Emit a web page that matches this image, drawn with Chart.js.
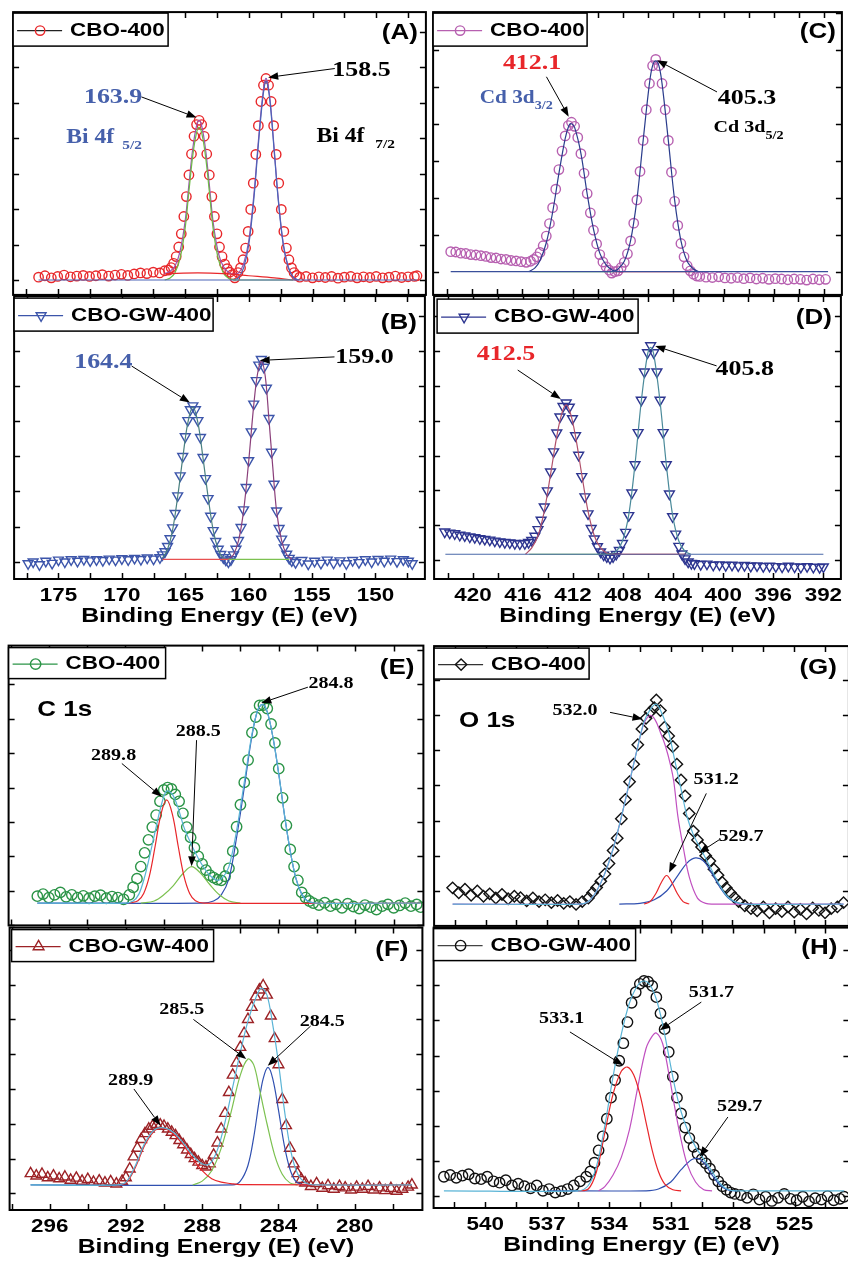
<!DOCTYPE html>
<html>
<head>
<meta charset="utf-8">
<script src="https://cdn.jsdelivr.net/npm/chart.js"></script>
<style>
  html, body { margin: 0; padding: 0; background: #fff; }
  #wrap { position: relative; width: 848px; height: 1261px; overflow: hidden; }
  #wrap canvas { position: absolute; }
</style>
</head>
<body>
<div id="wrap"></div>
<script>
// XPS spectra, 8 panels. Intensities are in tick units (one y tick = 1).

// ---- tick values / labels ----
const biTicks = [147.5, 150, 152.5, 155, 157.5, 160, 162.5, 165, 167.5, 170, 172.5, 175, 177.5];
const biLabels = [175, 170, 165, 160, 155, 150];
const cdTicks = [392, 394, 396, 398, 400, 402, 404, 406, 408, 410, 412, 414, 416, 418, 420, 422];
const cdLabels = [420, 416, 412, 408, 404, 400, 396, 392];
const c1sTicks = [278, 280, 282, 284, 286, 288, 290, 292, 294, 296, 298];
const c1sLabels = [296, 292, 288, 284, 280];
const o1sTicks = [523.5, 525, 526.5, 528, 529.5, 531, 532.5, 534, 535.5, 537, 538.5, 540, 541.5];
const o1sLabels = [540, 537, 534, 531, 528, 525];

// ---- (A) Bi 4f, CBO-400 ----
const aData = [
  [176.5,0.08],[176.0,0.12],[175.5,0.06],[175.0,0.1],[174.5,0.14],[174.0,0.09],[173.5,0.11],[173.0,0.13],[172.5,0.1],[172.0,0.12],
  [171.5,0.15],[171.0,0.11],[170.5,0.14],[170.0,0.16],[169.5,0.13],[169.0,0.17],[168.5,0.2],[168.0,0.18],[167.5,0.22],[167.0,0.2],[166.6,0.26],
  [166.3,0.28],[166.1,0.35],[165.9,0.47],[165.7,0.66],[165.5,0.93],[165.3,1.3],[165.1,1.79],[164.9,2.35],[164.7,2.96],[164.5,3.55],
  [164.3,4.05],[164.1,4.38],[163.9,4.5],[163.7,4.38],[163.5,4.05],[163.3,3.55],[163.1,2.96],[162.9,2.35],[162.7,1.79],[162.5,1.3],
  [162.3,0.93],[162.1,0.66],[161.9,0.45],[161.7,0.32],[161.5,0.22],[161.3,0.15],[161.1,0.06],
  [160.85,0.21],[160.65,0.34],[160.45,0.57],[160.25,0.9],[160.05,1.37],[159.85,1.99],[159.65,2.73],[159.45,3.54],[159.25,4.35],
  [159.05,5.03],[158.85,5.49],[158.65,5.68],[158.45,5.49],[158.25,5.03],[158.05,4.35],[157.85,3.54],[157.65,2.73],[157.45,1.99],
  [157.25,1.37],[157.05,0.9],[156.85,0.57],[156.65,0.34],[156.45,0.21],[156.25,0.13],
  [156.0,0.08],[155.5,0.1],[155.0,0.06],[154.5,0.09],[154.0,0.07],[153.5,0.1],[153.0,0.05],[152.5,0.08],[152.0,0.1],[151.5,0.06],
  [151.0,0.09],[150.5,0.07],[150.0,0.1],[149.5,0.06],[149.0,0.08],[148.5,0.11],[148.0,0.07],[147.5,0.09],[147.0,0.1],[146.8,0.12]
];
const aBase = [[176.5,0],[146.8,0]];
const aBaseGreen = [[161.2,0],[156.5,0]];
const aBg = [[166.5,0.18],[164.0,0.2],[162.0,0.18],[160.0,0.12],[158.0,0.06],[156.5,0.0]];
const aComp1 = [[166.6,0],[166.2,0.05],[165.8,0.2],[165.4,0.6],[165.0,1.45],[164.7,2.5],[164.4,3.5],[164.1,4.15],[163.9,4.3],
  [163.7,4.15],[163.4,3.5],[163.1,2.5],[162.8,1.45],[162.4,0.6],[162.0,0.2],[161.6,0.05],[161.0,0]];
const aComp2 = [[161.2,0],[160.8,0.07],[160.4,0.35],[160.0,1.0],[159.6,2.3],[159.3,3.6],[159.0,4.8],[158.8,5.4],[158.65,5.6],
  [158.5,5.45],[158.3,4.9],[158.0,3.6],[157.7,2.3],[157.3,1.0],[156.9,0.35],[156.5,0.07],[156.1,0]];
const aEnv = [[166.6,0.18],[166.2,0.24],[165.8,0.39],[165.4,0.8],[165.0,1.65],[164.7,2.7],[164.4,3.7],[164.1,4.35],[163.9,4.5],
  [163.7,4.35],[163.4,3.7],[163.1,2.7],[162.8,1.63],[162.4,0.78],[162.0,0.38],[161.6,0.22],[161.2,0.16],[160.8,0.2],[160.4,0.47],
  [160.0,1.12],[159.6,2.41],[159.3,3.7],[159.0,4.9],[158.8,5.5],[158.65,5.68],[158.5,5.52],[158.3,4.97],[158.0,3.66],[157.7,2.35],
  [157.3,1.04],[156.9,0.37],[156.5,0.07],[156.1,0.0]];

// ---- (B) Bi 4f, CBO-GW-400 ----
const bData = [
  [177.4,-0.05],[177.0,0.0],[176.5,-0.08],[176.0,0.02],[175.5,-0.04],[175.0,0.05],[174.5,0.0],[174.0,0.06],[173.5,0.02],[173.0,0.07],
  [172.5,0.03],[172.0,0.06],[171.5,0.04],[171.0,0.08],[170.5,0.05],[170.0,0.09],[169.5,0.06],[169.0,0.1],[168.5,0.07],[168.0,0.11],
  [167.5,0.08],[167.0,0.12],
  [166.8,0.2],[166.6,0.29],[166.4,0.44],[166.2,0.66],[166.0,0.97],[165.8,1.38],[165.6,1.88],[165.4,2.45],[165.2,3.0],[165.0,3.56],
  [164.8,4.02],[164.6,4.33],[164.4,4.44],[164.2,4.33],[164.0,4.02],[163.8,3.54],[163.6,2.97],[163.4,2.37],[163.2,1.8],[163.0,1.3],
  [162.8,0.89],[162.6,0.58],[162.4,0.36],[162.2,0.21],[162.0,0.12],[161.8,0.05],[161.6,0.0],[161.4,0.06],
  [161.2,0.2],[161.0,0.36],[160.8,0.61],[160.6,0.98],[160.4,1.48],[160.2,2.12],[160.0,2.88],[159.8,3.7],[159.6,4.49],[159.4,5.16],
  [159.2,5.6],[159.0,5.76],[158.8,5.54],[158.6,4.94],[158.4,4.08],[158.2,3.12],[158.0,2.21],[157.8,1.45],[157.6,0.95],[157.4,0.65],
  [157.2,0.4],[157.0,0.22],[156.8,0.1],[156.6,0.03],
  [156.3,-0.02],[155.8,0.04],[155.3,-0.06],[154.8,0.02],[154.3,-0.04],[153.8,0.05],[153.3,-0.03],[152.8,0.03],[152.3,-0.05],[151.8,0.04],
  [151.3,-0.02],[150.8,0.06],[150.3,0.0],[149.8,0.07],[149.3,0.02],[148.8,0.08],[148.3,0.01],[147.8,0.06],[147.4,0.02],[147.1,-0.05]
];
const bBaseRed = [[166.8,0.07],[161.6,0.07]];
const bBaseGreen = [[161.6,0.07],[156.8,0.07]];
const bComp1 = [[166.8,0.1],[166.4,0.35],[166.0,0.9],[165.6,1.85],[165.2,2.95],[164.8,3.95],[164.4,4.4],[164.0,3.95],[163.6,2.95],
  [163.2,1.85],[162.8,0.9],[162.4,0.35],[162.0,0.1],[161.6,0.07]];
const bComp2 = [[161.6,0.07],[161.2,0.2],[160.8,0.6],[160.4,1.45],[160.0,2.85],[159.6,4.45],[159.3,5.35],[159.0,5.7],[158.7,5.3],
  [158.4,4.05],[158.1,2.7],[157.8,1.45],[157.4,0.6],[157.0,0.2],[156.6,0.07]];

// ---- (C) Cd 3d, CBO-400 ----
const cData = [
  [421.7,0.54],[421.3,0.53],[420.9,0.5],[420.5,0.49],[420.1,0.46],[419.7,0.45],[419.3,0.43],[418.9,0.41],[418.5,0.38],[418.1,0.37],
  [417.7,0.34],[417.3,0.33],[416.9,0.3],[416.5,0.29],[416.1,0.27],[415.7,0.25],[415.35,0.28],
  [415.1,0.33],[414.85,0.4],[414.6,0.52],[414.35,0.7],[414.1,0.96],[413.85,1.3],[413.6,1.73],[413.35,2.23],[413.1,2.76],[412.85,3.26],
  [412.6,3.67],[412.35,3.95],[412.1,4.04],[411.85,3.93],[411.6,3.63],[411.35,3.19],[411.1,2.66],[410.85,2.11],[410.6,1.59],[410.35,1.12],
  [410.1,0.75],[409.85,0.46],[409.6,0.26],[409.35,0.13],[409.1,0.04],[408.9,-0.04],
  [408.65,0.0],[408.4,0.02],[408.15,0.11],[407.9,0.25],[407.65,0.48],[407.4,0.83],[407.15,1.31],[406.9,1.94],[406.65,2.71],[406.4,3.55],
  [406.15,4.38],[405.9,5.09],[405.65,5.57],[405.4,5.74],[405.15,5.57],[404.9,5.09],[404.65,4.38],[404.4,3.55],[404.15,2.69],[403.9,1.9],
  [403.65,1.25],[403.4,0.76],[403.15,0.4],[402.9,0.16],[402.65,0.02],[402.4,-0.07],[402.15,-0.12],
  [401.9,-0.13],[401.4,-0.15],[400.9,-0.16],[400.4,-0.14],[399.9,-0.17],[399.4,-0.18],[398.9,-0.16],[398.4,-0.19],[397.9,-0.17],
  [397.4,-0.2],[396.9,-0.18],[396.4,-0.21],[395.9,-0.19],[395.4,-0.2],[394.9,-0.22],[394.4,-0.2],[393.9,-0.21],[393.4,-0.23],
  [392.9,-0.2],[392.4,-0.22],[391.9,-0.21]
];
const cBase = [[421.7,0],[391.7,0]];
const cBaseGreen = [[415.2,0],[408.7,0]];
const cBaseRed = [[408.7,0],[402.3,0]];
const cComp1 = [[415.5,0],[415.0,0.1],[414.6,0.3],[414.1,0.78],[413.6,1.6],[413.1,2.65],[412.6,3.6],[412.3,3.95],[412.1,4.0],
  [411.85,3.9],[411.35,3.2],[410.85,2.1],[410.35,1.15],[409.85,0.5],[409.35,0.18],[408.85,0.04],[408.5,0.0]];
const cComp2 = [[408.7,0.0],[408.4,0.07],[407.9,0.28],[407.4,0.84],[406.9,1.94],[406.4,3.55],[405.9,5.09],[405.65,5.57],[405.4,5.7],
  [405.15,5.57],[404.9,5.09],[404.4,3.55],[403.9,1.94],[403.4,0.84],[402.9,0.28],[402.4,0.07],[402.0,0.0]];

// ---- (D) Cd 3d, CBO-GW-400 ----
const dData = [
  [422.25,0.81],[421.85,0.78],[421.45,0.76],[421.05,0.72],[420.65,0.7],[420.25,0.67],[419.85,0.65],[419.45,0.62],[419.05,0.6],
  [418.65,0.58],[418.25,0.55],[417.85,0.53],[417.45,0.51],[417.05,0.5],[416.65,0.48],[416.25,0.47],[415.85,0.48],
  [415.55,0.51],[415.3,0.57],[415.05,0.69],[414.8,0.88],[414.55,1.15],[414.3,1.53],[414.05,1.99],[413.8,2.53],[413.55,3.11],
  [413.3,3.65],[413.05,4.11],[412.8,4.41],[412.55,4.51],[412.3,4.39],[412.05,4.06],[411.8,3.57],[411.55,3.01],[411.3,2.4],
  [411.05,1.82],[410.8,1.33],[410.55,0.91],[410.3,0.61],[410.05,0.39],[409.8,0.24],[409.55,0.15],[409.3,0.1],[409.05,0.06],
  [408.8,0.1],[408.55,0.17],[408.3,0.28],[408.05,0.48],[407.8,0.8],[407.55,1.28],[407.3,1.93],[407.05,2.74],[406.8,3.66],
  [406.55,4.59],[406.3,5.4],[406.05,5.95],[405.8,6.15],[405.55,5.95],[405.3,5.4],[405.05,4.59],[404.8,3.66],[404.55,2.74],
  [404.3,1.9],[404.05,1.25],[403.8,0.75],[403.55,0.4],[403.3,0.18],[403.05,0.04],[402.8,-0.05],[402.55,-0.09],
  [402.3,-0.1],[401.8,-0.12],[401.3,-0.11],[400.8,-0.14],[400.3,-0.13],[399.8,-0.15],[399.3,-0.14],[398.8,-0.16],[398.3,-0.15],
  [397.8,-0.17],[397.3,-0.16],[396.8,-0.18],[396.3,-0.17],[395.8,-0.18],[395.3,-0.19],[394.8,-0.17],[394.3,-0.19],[393.8,-0.2],
  [393.3,-0.18],[392.8,-0.2],[392.3,-0.21],[392.0,-0.19]
];
const dBase = [[422.2,0.17],[392.0,0.17]];
const dBaseGreen = [[415.5,0.17],[409.0,0.17]];
const dBaseRed = [[409.0,0.17],[403.0,0.17]];
const dComp1 = [[415.8,0.17],[415.3,0.35],[414.8,0.7],[414.3,1.4],[413.8,2.45],[413.3,3.55],[412.9,4.2],[412.55,4.45],[412.2,4.2],
  [411.8,3.55],[411.3,2.45],[410.8,1.4],[410.3,0.7],[409.8,0.35],[409.3,0.2],[409.0,0.17]];
const dComp2 = [[409.0,0.17],[408.55,0.25],[408.05,0.55],[407.55,1.3],[407.05,2.75],[406.55,4.55],[406.05,5.9],[405.8,6.1],
  [405.55,5.9],[405.05,4.55],[404.55,2.75],[404.05,1.3],[403.55,0.55],[403.05,0.25],[402.6,0.17]];

// ---- (E) C 1s, CBO-400 ----
const eData = [
  [296.6,-0.16],[296.3,-0.1],[296.0,-0.2],[295.7,-0.12],[295.4,-0.05],[295.1,-0.18],[294.8,-0.12],[294.5,-0.2],[294.2,-0.15],
  [293.9,-0.22],[293.6,-0.16],[293.3,-0.13],[293.0,-0.22],[292.7,-0.17],[292.4,-0.2],[292.1,-0.25],[291.8,-0.12],
  [291.6,0.1],[291.4,0.35],[291.2,0.7],[291.0,1.1],[290.8,1.48],[290.6,1.85],[290.4,2.2],[290.2,2.6],[290.0,2.93],[289.8,3.0],
  [289.6,2.96],[289.4,2.8],[289.2,2.6],[289.0,2.25],[288.8,1.85],[288.6,1.55],[288.4,1.25],[288.2,1.0],[288.0,0.78],[287.8,0.6],
  [287.6,0.45],[287.4,0.38],[287.2,0.32],[287.0,0.3],[286.8,0.42],[286.6,0.65],[286.4,1.15],[286.2,1.86],[286.0,2.5],[285.8,3.15],
  [285.6,3.8],[285.4,4.6],[285.2,5.05],[285.0,5.39],[284.8,5.4],[284.6,5.3],[284.4,4.85],[284.2,4.3],[284.0,3.55],[283.8,2.7],
  [283.6,1.9],[283.4,1.2],[283.2,0.7],[283.0,0.3],[282.8,-0.05],[282.6,-0.2],[282.4,-0.3],
  [282.2,-0.36],[281.9,-0.42],[281.6,-0.35],[281.3,-0.45],[281.0,-0.4],[280.7,-0.5],[280.4,-0.38],[280.1,-0.46],[279.8,-0.52],
  [279.5,-0.42],[279.2,-0.48],[278.9,-0.55],[278.6,-0.45],[278.3,-0.4],[278.0,-0.5],[277.7,-0.43],[277.4,-0.36],[277.1,-0.45],
  [276.8,-0.4],[276.6,-0.48]
];
const eRed = [[291.8,-0.36],[291.35,-0.29],[291.05,-0.08],[290.75,0.43],[290.45,1.3],[290.15,2.22],[289.85,2.64],[289.55,2.22],
  [289.25,1.3],[288.95,0.43],[288.65,-0.08],[288.35,-0.29],[287.9,-0.36],[276.6,-0.36]];
const eGreen = [[291.2,-0.36],[290.5,-0.3],[290.0,-0.12],[289.5,0.15],[289.0,0.5],[288.55,0.7],[288.1,0.52],[287.6,0.18],
  [287.1,-0.12],[286.6,-0.3],[286.0,-0.36]];
const eBlue = [[296.6,-0.36],[288.0,-0.36],[287.4,-0.3],[287.0,-0.12],[286.6,0.35],[286.2,1.55],[285.8,3.0],[285.4,4.5],[285.1,5.25],
  [284.85,5.42],[284.6,5.2],[284.3,4.45],[284.0,3.4],[283.7,2.2],[283.4,1.15],[283.1,0.35],[282.8,-0.1],[282.5,-0.3],[282.1,-0.36]];
const eEnv = [[296.6,-0.36],[292.0,-0.36],[291.6,-0.3],[291.3,-0.1],[291.0,0.4],[290.7,1.1],[290.4,1.85],[290.1,2.55],[289.85,2.9],
  [289.55,2.8],[289.25,2.4],[288.95,1.85],[288.65,1.45],[288.35,1.1],[288.0,0.75],[287.6,0.45],[287.2,0.3],[286.9,0.4],[286.6,0.7],
  [286.2,1.75],[285.8,3.15],[285.4,4.55],[285.1,5.25],[284.85,5.42],[284.6,5.2],[284.3,4.45],[284.0,3.4],[283.7,2.2],[283.4,1.15],
  [283.1,0.35],[282.8,-0.1],[282.5,-0.3],[282.1,-0.36],[276.6,-0.36]];

// ---- (F) C 1s, CBO-GW-400 ----
const fData = [
  [297.0,0.57],[296.7,0.5],[296.4,0.55],[296.1,0.45],[295.8,0.5],[295.5,0.42],[295.2,0.47],[294.9,0.38],[294.6,0.44],[294.3,0.35],
  [294.0,0.4],[293.7,0.32],[293.4,0.36],[293.1,0.3],[292.8,0.34],[292.5,0.27],[292.2,0.35],
  [292.0,0.45],[291.8,0.7],[291.6,1.05],[291.4,1.3],[291.2,1.55],[291.0,1.72],[290.8,1.85],[290.6,1.93],[290.4,1.98],[290.2,1.97],
  [290.0,1.93],[289.8,1.85],[289.6,1.76],[289.4,1.66],[289.2,1.52],[289.0,1.4],[288.8,1.25],[288.6,1.12],[288.4,1.0],[288.2,0.9],
  [288.0,0.8],[287.8,0.76],[287.6,0.85],[287.4,1.1],[287.2,1.45],[287.0,1.85],[286.8,2.3],[286.6,2.9],[286.4,3.4],[286.2,3.75],
  [286.0,4.2],[285.8,4.6],[285.6,5.0],[285.4,5.35],[285.2,5.65],[285.0,5.85],[284.8,5.97],[284.6,5.7],[284.4,5.1],[284.2,4.45],
  [284.0,3.7],[283.8,2.7],[283.6,1.95],[283.4,1.3],[283.2,0.85],[283.0,0.57],[282.8,0.4],[282.6,0.3],
  [282.3,0.2],[282.0,0.28],[281.7,0.15],[281.4,0.22],[281.1,0.12],[280.8,0.2],[280.5,0.16],[280.2,0.1],[279.9,0.18],[279.6,0.12],
  [279.3,0.2],[279.0,0.1],[278.7,0.16],[278.4,0.08],[278.1,0.14],[277.8,0.06],[277.5,0.12],[277.2,0.18],[277.0,0.24]
];
const fRed = [[292.5,0.24],[292.0,0.3],[291.5,0.75],[291.0,1.4],[290.5,1.8],[290.2,1.86],[289.9,1.85],[289.5,1.7],[289.0,1.4],
  [288.5,1.0],[288.0,0.65],[287.5,0.42],[287.0,0.32],[286.5,0.28],[286.0,0.25],[277.0,0.24]];
const fGreen = [[288.5,0.24],[288.0,0.35],[287.5,0.65],[287.0,1.3],[286.5,2.3],[286.0,3.4],[285.6,3.86],[285.3,3.7],[285.0,3.0],
  [284.6,2.0],[284.2,1.1],[283.8,0.55],[283.4,0.3],[283.0,0.24]];
const fBlue = [[297.0,0.24],[286.4,0.24],[286.0,0.35],[285.6,0.8],[285.3,1.6],[285.0,2.7],[284.8,3.3],[284.55,3.62],[284.3,3.3],
  [284.0,2.4],[283.7,1.4],[283.4,0.7],[283.1,0.35],[282.8,0.26],[282.5,0.24]];
const fEnv = [[297.0,0.24],[292.5,0.24],[292.0,0.32],[291.5,0.8],[291.0,1.45],[290.5,1.83],[290.0,1.88],[289.5,1.75],[289.0,1.45],
  [288.5,1.1],[288.0,0.85],[287.6,0.85],[287.2,1.25],[286.8,2.05],[286.4,3.05],[286.0,4.05],[285.6,4.95],[285.2,5.6],[284.9,5.9],
  [284.6,5.7],[284.3,4.85],[284.0,3.75],[283.7,2.45],[283.4,1.35],[283.1,0.7],[282.8,0.4],[282.4,0.26],[282.0,0.24],[277.0,0.24]];

// ---- (G) O 1s, CBO-400 ----
const gData = [
  [541.6,0.09],[541.3,-0.05],[541.0,0.05],[540.7,-0.12],[540.4,0.0],[540.1,-0.15],[539.8,-0.08],[539.5,-0.2],[539.2,-0.1],
  [538.9,-0.22],[538.6,-0.15],[538.3,-0.19],[538.0,-0.28],[537.7,-0.2],[537.4,-0.3],[537.1,-0.25],[536.8,-0.33],[536.5,-0.27],
  [536.2,-0.35],[535.9,-0.3],[535.6,-0.38],[535.3,-0.3],[535.0,-0.2],
  [534.8,-0.05],[534.6,0.1],[534.4,0.28],[534.2,0.48],[534.0,0.78],[533.8,1.15],[533.6,1.5],[533.4,2.05],[533.2,2.6],[533.0,3.1],
  [532.8,3.6],[532.6,4.15],[532.4,4.6],[532.2,4.9],[532.0,5.08],[531.8,5.2],[531.7,5.42],[531.5,5.12],[531.3,4.65],[531.1,4.4],
  [530.9,4.1],[530.7,3.6],[530.5,3.15],[530.3,2.7],[530.1,2.2],[529.9,1.7],[529.7,1.45],[529.5,1.25],[529.3,1.0],[529.1,0.85],
  [528.9,0.62],[528.7,0.45],[528.5,0.25],[528.3,0.09],[528.1,-0.05],[527.9,-0.18],[527.7,-0.3],
  [527.4,-0.42],[527.1,-0.5],[526.8,-0.56],[526.5,-0.45],[526.2,-0.62],[525.9,-0.5],[525.6,-0.58],[525.3,-0.45],[525.0,-0.6],
  [524.7,-0.52],[524.4,-0.65],[524.1,-0.48],[523.8,-0.55],[523.5,-0.62],[523.2,-0.5],[522.9,-0.45],[522.6,-0.33]
];
const gMag = [[541.6,-0.37],[535.4,-0.37],[535.0,-0.3],[534.6,0.0],[534.2,0.5],[533.8,1.2],[533.4,2.1],[533.0,3.1],[532.6,4.1],
  [532.3,4.75],[532.0,4.98],[531.75,4.85],[531.5,4.5],[531.25,4.1],[531.0,3.55],[530.85,3.1],[530.65,2.11],[530.4,1.27],
  [530.1,0.4],[529.7,-0.2],[529.3,-0.35],[528.9,-0.37],[522.6,-0.37]];
const gRed = [[532.3,-0.37],[532.0,-0.3],[531.7,-0.05],[531.45,0.25],[531.2,0.44],[530.95,0.25],[530.7,-0.05],[530.4,-0.3],[530.1,-0.37]];
const gBlue = [[533.5,-0.37],[532.5,-0.35],[531.8,-0.25],[531.2,0.0],[530.7,0.4],[530.2,0.8],[529.8,0.94],[529.4,0.85],[529.0,0.5],
  [528.6,0.1],[528.2,-0.2],[527.8,-0.33],[527.2,-0.37]];
const gEnv = [[541.6,-0.37],[535.4,-0.37],[535.0,-0.3],[534.6,0.0],[534.2,0.5],[533.8,1.2],[533.4,2.1],[533.0,3.1],[532.6,4.1],
  [532.3,4.8],[532.0,5.15],[531.7,5.3],[531.4,5.0],[531.1,4.5],[530.8,3.7],[530.5,2.9],[530.2,2.1],[529.9,1.6],[529.5,1.15],
  [529.1,0.7],[528.7,0.25],[528.3,-0.12],[527.9,-0.3],[527.4,-0.37],[522.6,-0.37]];

// ---- (H) O 1s, CBO-GW-400 ----
const hData = [
  [542.0,0.55],[541.7,0.6],[541.4,0.52],[541.1,0.58],[540.8,0.62],[540.5,0.5],[540.2,0.48],[539.9,0.55],[539.6,0.42],[539.3,0.38],
  [539.0,0.45],[538.7,0.3],[538.4,0.35],[538.1,0.28],[537.8,0.22],[537.5,0.3],[537.2,0.15],[536.9,0.2],[536.6,0.1],[536.3,0.14],
  [536.0,0.2],[535.7,0.3],[535.4,0.42],
  [535.1,0.55],[534.9,0.7],[534.7,0.95],[534.5,1.3],[534.3,1.7],[534.1,2.2],[533.9,2.8],[533.7,3.3],[533.5,3.85],[533.3,4.35],
  [533.1,4.95],[532.9,5.5],[532.7,5.8],[532.5,6.04],[532.3,6.12],[532.1,6.1],[531.9,5.98],[531.7,5.66],[531.5,5.2],[531.3,4.75],
  [531.1,4.1],[530.9,3.4],[530.7,2.8],[530.5,2.35],[530.3,1.95],[530.1,1.65],[529.9,1.4],[529.7,1.2],[529.5,1.05],[529.3,0.93],
  [529.1,0.78],[528.9,0.6],[528.7,0.42],[528.5,0.28],[528.3,0.18],[528.1,0.1],[527.9,0.06],[527.6,0.03],
  [527.3,-0.05],[527.0,0.05],[526.7,-0.1],[526.4,-0.02],[526.1,-0.14],[525.8,-0.05],[525.5,0.06],[525.2,-0.08],[524.9,-0.12],
  [524.6,-0.02],[524.3,-0.15],[524.0,-0.06],[523.7,-0.1],[523.4,0.0],[523.1,-0.12],[522.8,-0.08],[522.6,-0.02]
];
const hRed = [[535.5,0.15],[535.0,0.2],[534.6,0.7],[534.2,1.8],[533.8,2.9],[533.4,3.55],[533.1,3.67],[532.8,3.45],[532.5,2.9],
  [532.2,2.1],[531.9,1.3],[531.6,0.7],[531.3,0.35],[530.9,0.18],[530.5,0.15]];
const hMag = [[534.5,0.15],[534.2,0.27],[533.8,0.6],[533.4,1.1],[533.0,1.9],[532.6,3.1],[532.2,4.2],[531.9,4.55],[531.7,4.64],
  [531.4,4.35],[531.1,3.5],[530.8,2.5],[530.5,1.6],[530.2,0.9],[529.8,0.4],[529.4,0.18],[529.0,0.15]];
const hBlue = [[537.0,0.15],[532.2,0.15],[531.6,0.2],[531.0,0.4],[530.5,0.75],[530.0,1.03],[529.7,1.07],[529.4,0.95],[529.0,0.6],
  [528.6,0.3],[528.2,0.17],[527.8,0.15]];
const hEnv = [[542.0,0.15],[535.5,0.15],[535.0,0.3],[534.6,0.85],[534.2,2.0],[533.8,3.4],[533.4,4.6],[533.0,5.5],[532.6,6.0],
  [532.3,6.12],[532.0,6.0],[531.7,5.6],[531.4,4.9],[531.1,4.0],[530.8,3.1],[530.5,2.4],[530.2,1.9],[529.8,1.4],[529.4,1.05],
  [529.0,0.7],[528.6,0.35],[528.2,0.18],[527.8,0.15],[522.6,0.15]];

// ---- styling ----
const SANS = '"Liberation Sans", Arial, sans-serif';
const SERIF = '"Liberation Serif", "Times New Roman", serif';
const STRETCH = 1.18;          // the original figure is stretched horizontally
const BLUE = '#4660ab', RED = '#e8262a', BLACK = '#000';

const panels = [
  { key: 'A', rect: [13, 12, 426, 295], xr: [146.1, 178.5], yr: [-0.42, 7.55], ticks: biTicks, labels: null,
    legend: 'CBO-400', leg: [0, 1, 155, 33], lineColor: '#222', color: '#e8272a', marker: 'circle', r: 4.7, data: aData,
    fits: [[aBase, '#4a64b8'], [aBaseGreen, '#7cc150'], [aBg, '#e8272a'], [aComp1, '#6dbb45'], [aComp2, '#4a64b8'], [aEnv, '#9a55b0']],
    letter: '(A)', let: [8, 21],
    notes: [
      { t: '163.9', at: [170.65, 5.16], c: BLUE, s: 22, from: [168.43, 5.16], to: [164.1, 4.58] },
      { t: '158.5', at: [151.15, 5.92], c: BLACK, s: 22, from: [153.25, 5.96], to: [158.48, 5.71] },
      { t: 'Bi 4f', sub: '5/2', left: [174.32, 4.0], c: BLUE, s: 20, ss: 13, gap: 8 },
      { t: 'Bi 4f', sub: '7/2', left: [154.69, 4.04], c: BLACK, s: 20, ss: 13, gap: 11 }
    ] },
  { key: 'B', rect: [13, 295, 426, 579], xr: [146.1, 178.5], yr: [-0.49, 7.56], ticks: biTicks, labels: biLabels,
    legend: 'CBO-GW-400', leg: [0, 2, 199, 33], lineColor: '#3c55aa', color: '#3c55aa', marker: 'triDown', r: 5.7, data: bData,
    fits: [[bBaseRed, '#e85050'], [bBaseGreen, '#7cc150'], [bComp1, '#4a8080'], [bComp2, '#8a3f7a']],
    letter: '(B)', let: [8, 27],
    notes: [
      { t: '164.4', at: [171.46, 5.67], c: BLUE, s: 22, from: [169.23, 5.57], to: [164.64, 4.53] },
      { t: '159.0', at: [150.87, 5.81], c: BLACK, s: 22, from: [153.23, 5.83], to: [159.13, 5.73] }
    ] },
  { key: 'C', rect: [433, 12, 842, 295], xr: [390.6, 423.1], yr: [-0.63, 7.02], ticks: cdTicks, labels: null,
    legend: 'CBO-400', leg: [0, 1, 154, 33], lineColor: '#b760b0', color: '#b760b0', marker: 'circle', r: 4.7, data: cData,
    fits: [[cBase, '#3a4f9a'], [cBaseGreen, '#6cc04a'], [cBaseRed, '#e82a2a'], [cComp1, '#2a3c8c'], [cComp2, '#2a3c8c']],
    letter: '(C)', let: [6, 20],
    notes: [
      { t: '412.1', at: [415.23, 5.63], c: RED, s: 22, from: [414.09, 5.27], to: [412.32, 4.19] },
      { t: 'Cd 3d', sub: '3/2', left: [419.39, 4.69], c: BLUE, s: 18, ss: 12, gap: 0 },
      { t: '405.3', at: [398.15, 4.68], c: BLACK, s: 22, from: [400.53, 4.86], to: [405.3, 5.72] },
      { t: 'Cd 3d', sub: '5/2', left: [400.8, 3.9], c: BLACK, s: 17, ss: 12, gap: 0 }
    ] },
  { key: 'D', rect: [433, 295, 842, 579], xr: [390.6, 423.1], yr: [-0.54, 7.57], ticks: cdTicks, labels: cdLabels,
    legend: 'CBO-GW-400', leg: [3, 3, 201, 34], lineColor: '#2d3590', color: '#2d3590', marker: 'triDown', r: 5.7, data: dData,
    fits: [[dBase, '#4a68a8'], [dBaseGreen, '#6cc04a'], [dBaseRed, '#e82a2a'], [dComp1, '#b0506a'], [dComp2, '#4a8a9a']],
    letter: '(D)', let: [9, 22],
    notes: [
      { t: '412.5', at: [417.35, 5.9], c: RED, s: 22, from: [416.42, 5.45], to: [412.98, 4.62] },
      { t: '405.8', at: [398.28, 5.48], c: BLACK, s: 22, from: [400.53, 5.57], to: [405.43, 6.14] }
    ] },
  { key: 'E', rect: [8, 645, 424, 926], xr: [276.45, 298.1], yr: [-1.01, 7.13], ticks: c1sTicks, labels: null,
    legend: 'CBO-400', leg: [0, 2, 157, 31], lineColor: '#2b9447', color: '#2b9447', marker: 'circle', r: 5.2, data: eData,
    fits: [[eEnv, '#5ab4d6'], [eRed, '#e8262a'], [eGreen, '#7cc150'], [eBlue, '#3050b0']],
    letter: '(E)', let: [9, 22],
    notes: [
      { t: 'C 1s', sans: true, left: [296.6, 5.25], c: BLACK, s: 22 },
      { t: '284.8', at: [281.27, 6.02], c: BLACK, s: 17, from: [282.48, 5.92], to: [284.91, 5.46] },
      { t: '288.5', at: [288.2, 4.62], c: BLACK, s: 17, from: [288.29, 4.38], to: [288.55, 0.71] },
      { t: '289.8', at: [292.62, 3.94], c: BLACK, s: 17, from: [292.19, 3.7], to: [290.11, 2.73] }
    ] },
  { key: 'F', rect: [8, 926, 424, 1210], xr: [276.45, 298.1], yr: [-0.48, 7.64], ticks: c1sTicks, labels: c1sLabels,
    legend: 'CBO-GW-400', leg: [2, 2, 202, 32], lineColor: '#9c2226', color: '#9c2226', marker: 'triUp', r: 6.2, data: fData,
    fits: [[fEnv, '#5ab4d6'], [fRed, '#e8262a'], [fGreen, '#7cc150'], [fBlue, '#3050b0']],
    letter: '(F)', let: [14, 22],
    notes: [
      { t: '285.5', at: [289.07, 5.29], c: BLACK, s: 17, from: [288.46, 5.0], to: [285.69, 3.86] },
      { t: '284.5', at: [281.7, 4.95], c: BLACK, s: 17, from: [282.31, 4.81], to: [284.56, 3.67] },
      { t: '289.9', at: [291.75, 3.24], c: BLACK, s: 17, from: [291.58, 3.0], to: [290.19, 1.95] }
    ] },
  { key: 'G', rect: [433, 645, 850, 927], xr: [522.34, 542.5], yr: [-0.99, 6.95], ticks: o1sTicks, labels: null,
    legend: 'CBO-400', leg: [0, 2, 155, 31], lineColor: '#333', color: '#111', marker: 'diamond', r: 5.7, data: gData,
    fits: [[gEnv, '#5ab4d6'], [gMag, '#c050c0'], [gRed, '#e8262a'], [gBlue, '#3050b0']],
    letter: '(G)', let: [12, 22],
    notes: [
      { t: 'O 1s', sans: true, left: [541.29, 4.84], c: BLACK, s: 22 },
      { t: '532.0', at: [535.65, 5.12], c: BLACK, s: 17, from: [533.95, 5.07], to: [532.37, 4.88] },
      { t: '531.2', at: [528.79, 3.15], c: BLACK, s: 17, from: [529.27, 2.77], to: [531.08, 0.52] },
      { t: '529.7', at: [527.58, 1.55], c: BLACK, s: 17, from: [528.63, 1.46], to: [529.63, 1.08] }
    ] },
  { key: 'H', rect: [433, 927, 850, 1208], xr: [522.34, 542.5], yr: [-0.34, 7.64], ticks: o1sTicks, labels: o1sLabels,
    legend: 'CBO-GW-400', leg: [0, 1, 202, 32], lineColor: '#444', color: '#111', marker: 'circle', r: 5.2, data: hData,
    fits: [[hEnv, '#5ab4d6'], [hRed, '#e8262a'], [hMag, '#c050c0'], [hBlue, '#3050b0']],
    letter: '(H)', let: [12, 20],
    notes: [
      { t: '533.1', at: [536.29, 5.05], c: BLACK, s: 17, from: [535.89, 4.67], to: [533.31, 3.72] },
      { t: '531.7', at: [529.03, 5.8], c: BLACK, s: 17, from: [529.52, 5.52], to: [531.53, 4.72] },
      { t: '529.7', at: [527.66, 2.54], c: BLACK, s: 17, from: [528.23, 2.25], to: [529.6, 1.12] }
    ] }
];

// ---- drawing helpers ----
function txt(ctx, s, x, y, font, color, align) {
  ctx.save();
  ctx.font = font;
  ctx.fillStyle = color;
  ctx.textBaseline = 'middle';
  ctx.textAlign = 'left';
  const w = ctx.measureText(s).width * STRETCH;
  const x0 = align === 'center' ? x - w / 2 : align === 'right' ? x - w : x;
  ctx.translate(x0, y);
  ctx.scale(STRETCH, 1);
  ctx.fillText(s, 0, 0);
  ctx.restore();
  return w;
}

function arrow(ctx, x1, y1, x2, y2) {
  const ang = Math.atan2(y2 - y1, x2 - x1), L = 10, W = 3.8;
  const bx = x2 - L * Math.cos(ang), by = y2 - L * Math.sin(ang);
  ctx.beginPath();
  ctx.moveTo(x1, y1);
  ctx.lineTo(bx, by);
  ctx.strokeStyle = '#000';
  ctx.lineWidth = 1;
  ctx.stroke();
  ctx.beginPath();
  ctx.moveTo(x2, y2);
  ctx.lineTo(bx + W * Math.sin(ang), by - W * Math.cos(ang));
  ctx.lineTo(bx - W * Math.sin(ang), by + W * Math.cos(ang));
  ctx.closePath();
  ctx.fillStyle = '#000';
  ctx.fill();
}

function marker(ctx, kind, x, y, r, color) {
  ctx.beginPath();
  if (kind === 'circle') {
    ctx.arc(x, y, r, 0, Math.PI * 2);
  } else if (kind === 'triDown') {
    ctx.moveTo(x, y + r);
    ctx.lineTo(x - r * 0.866, y - r / 2);
    ctx.lineTo(x + r * 0.866, y - r / 2);
    ctx.closePath();
  } else if (kind === 'triUp') {
    ctx.moveTo(x, y - r);
    ctx.lineTo(x - r * 0.866, y + r / 2);
    ctx.lineTo(x + r * 0.866, y + r / 2);
    ctx.closePath();
  } else {
    ctx.moveTo(x, y - r); ctx.lineTo(x + r, y); ctx.lineTo(x, y + r); ctx.lineTo(x - r, y);
    ctx.closePath();
  }
  ctx.strokeStyle = color;
  ctx.lineWidth = 1.4;
  ctx.stroke();
}

function decoPlugin(p) {
  return {
    id: 'deco' + p.key,
    afterDraw(chart) {
      const ctx = chart.ctx, a = chart.chartArea;
      const X = v => chart.scales.x.getPixelForValue(v);
      const Y = v => chart.scales.y.getPixelForValue(v);
      ctx.save();

      // inward ticks on all four sides
      ctx.strokeStyle = '#000';
      ctx.lineWidth = 1.5;
      ctx.beginPath();
      p.ticks.forEach(t => {
        const x = Math.round(X(t)) + 0.5;
        ctx.moveTo(x, a.bottom); ctx.lineTo(x, a.bottom - 6);
        ctx.moveTo(x, a.top); ctx.lineTo(x, a.top + 6);
      });
      for (let t = Math.ceil(p.yr[0]); t <= Math.floor(p.yr[1]); t++) {
        const y = Math.round(Y(t)) + 0.5;
        ctx.moveTo(a.left, y); ctx.lineTo(a.left + 6, y);
        ctx.moveTo(a.right, y); ctx.lineTo(a.right - 6, y);
      }
      ctx.stroke();

      // frame
      ctx.lineWidth = 2;
      ctx.strokeRect(a.left, a.top, a.right - a.left, a.bottom - a.top);

      // x tick labels and axis title on the lower panel of each pair
      if (p.labels) {
        p.labels.forEach(v => txt(ctx, String(v), X(v), a.bottom + 17, 'bold 19px ' + SANS, '#000', 'center'));
        txt(ctx, 'Binding Energy (E) (eV)', (a.left + a.right) / 2, a.bottom + 37, 'bold 21px ' + SANS, '#000', 'center');
      }

      // legend box
      const lx = a.left + p.leg[0], ly = a.top + p.leg[1], lw = p.leg[2], lh = p.leg[3];
      ctx.fillStyle = '#fff';
      ctx.fillRect(lx, ly, lw, lh);
      ctx.strokeStyle = '#000';
      ctx.lineWidth = 1.5;
      ctx.strokeRect(lx, ly, lw, lh);
      const cy = ly + lh / 2 + 1;
      ctx.beginPath();
      ctx.moveTo(lx + 4, cy); ctx.lineTo(lx + 49, cy);
      ctx.strokeStyle = p.lineColor;
      ctx.lineWidth = 1.2;
      ctx.stroke();
      ctx.fillStyle = '#fff';
      marker(ctx, p.marker, lx + 27, cy, p.r, p.color);
      txt(ctx, p.legend, lx + 57, cy, 'bold 19px ' + SANS, '#000', 'left');

      // panel letter
      txt(ctx, p.letter, a.right - p.let[0], a.top + p.let[1], 'bold 22px ' + SANS, '#000', 'right');

      // peak annotations
      p.notes.forEach(n => {
        if (n.from) arrow(ctx, X(n.from[0]), Y(n.from[1]), X(n.to[0]), Y(n.to[1]));
        if (n.at) {
          txt(ctx, n.t, X(n.at[0]), Y(n.at[1]), 'bold ' + n.s + 'px ' + SERIF, n.c, 'center');
        } else if (n.sans) {
          txt(ctx, n.t, X(n.left[0]), Y(n.left[1]), 'bold ' + n.s + 'px ' + SANS, n.c, 'left');
        } else {
          const x0 = X(n.left[0]), y0 = Y(n.left[1]);
          const w = txt(ctx, n.t, x0, y0, 'bold ' + n.s + 'px ' + SERIF, n.c, 'left');
          txt(ctx, n.sub, x0 + w + n.gap, y0 + 8, 'bold ' + n.ss + 'px ' + SERIF, n.c, 'left');
        }
      });
      ctx.restore();
    }
  };
}

const pts = arr => arr.map(d => ({ x: d[0], y: d[1] }));
const styleMap = { circle: ['circle', 0], triDown: ['triangle', 180], triUp: ['triangle', 0], diamond: ['rectRot', 0] };

const wrap = document.getElementById('wrap');
panels.forEach(p => {
  const [l, t, r, b] = p.rect;
  const pad = 6, padB = p.labels ? 52 : 6;
  const cv = document.createElement('canvas');
  const W = r - l + 2 * pad, H = b - t + pad + padB;
  cv.width = W; cv.height = H;
  cv.style.left = (l - pad) + 'px';
  cv.style.top = (t - pad) + 'px';
  cv.style.width = W + 'px';
  cv.style.height = H + 'px';
  wrap.appendChild(cv);

  const datasets = p.fits.map(([arr, col]) => ({
    data: pts(arr), showLine: true, borderColor: col, borderWidth: 1.2,
    pointRadius: 0, tension: 0.35, fill: false, clip: 0
  }));
  const [ps, rot] = styleMap[p.marker];
  datasets.push({
    data: pts(p.data), showLine: false, pointStyle: ps, rotation: rot,
    pointRadius: p.r, pointBorderWidth: 1.4, pointBorderColor: p.color,
    pointBackgroundColor: 'rgba(0,0,0,0)', clip: 0
  });

  new Chart(cv, {
    type: 'scatter',
    data: { datasets },
    options: {
      responsive: false,
      animation: false,
      devicePixelRatio: 1,
      events: [],
      layout: { padding: { left: pad, right: pad, top: pad, bottom: padB } },
      scales: {
        x: { type: 'linear', reverse: true, min: p.xr[0], max: p.xr[1], display: false },
        y: { type: 'linear', min: p.yr[0], max: p.yr[1], display: false }
      },
      plugins: { legend: { display: false }, tooltip: { enabled: false } }
    },
    plugins: [decoPlugin(p)]
  });
});
</script>
</body>
</html>
